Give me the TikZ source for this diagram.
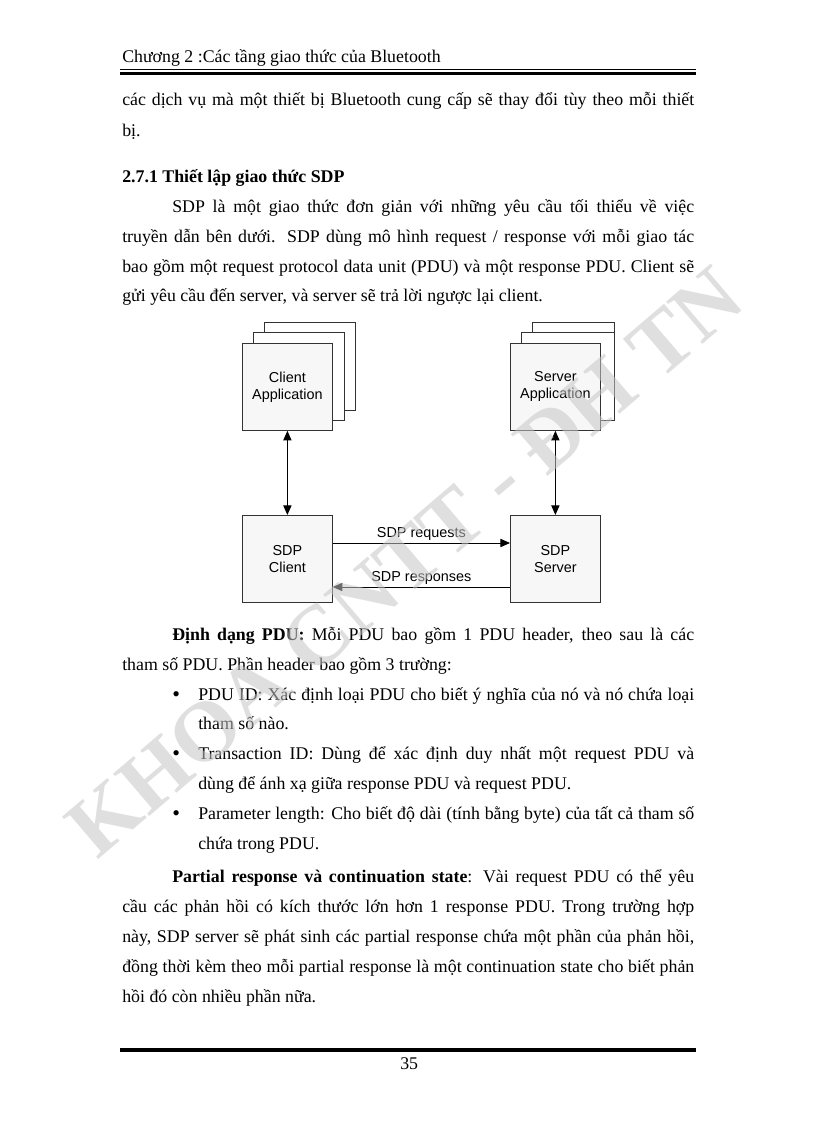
\documentclass[tikz,border=0pt]{standalone}
\usepackage{fontspec}
\usetikzlibrary{arrows.meta}
\setmainfont{Liberation Serif}
\newfontfamily\arialf{Liberation Sans}
\newcommand\jA[1]{\makebox[417.1pt][s]{#1}}
\newcommand\jB[1]{\makebox[380.6pt][s]{#1}}
\newcommand\jC[1]{\makebox[361.7pt][s]{#1}}
\newcommand\bul{{\fontsize{16}{16}\selectfont\textbullet}}
\begin{document}
\begin{tikzpicture}[x=0.7292pt,y=-0.7292pt,
  txt/.style={anchor=base west,inner sep=0pt,font=\fontsize{13}{15}\selectfont},
  bx/.style={draw=black!80,fill=gray!6,line width=0.6pt,minimum width=65.6pt,minimum height=63.4pt,inner sep=0pt,align=center,font=\arialf\fontsize{10.5}{12.5}\selectfont},
  back/.style={draw=black!80,fill=white,line width=0.6pt},
  arr/.style={-{Triangle[length=7pt,width=6pt]},line width=0.7pt},
  darr/.style={{Triangle[length=7pt,width=6pt]}-{Triangle[length=7pt,width=6pt]},line width=0.7pt},
  lab/.style={font=\arialf\fontsize{10.5}{12}\selectfont,inner sep=1.5pt}]
\useasboundingbox[fill=white] (0,0) rectangle (816,1123);
% header
\node[txt] (hd) at (122,63) {Chương 2 :Các tầng giao thức của Bluetooth};
\draw[line width=0.6pt] (120,69.5) -- (696,69.5);
\draw[line width=2.2pt] (120,73.5) -- (696,73.5);
% text
\node[txt] (t1) at (122,106) {\jA{các dịch vụ mà một thiết bị Bluetooth cung cấp sẽ thay đổi tùy theo mỗi thiết}};
\node[txt] (t2) at (122,137) {bị.};
\node[txt,font=\fontsize{13}{15}\selectfont\bfseries] (t3) at (122,183) {2.7.1 Thiết lập giao thức SDP};
\node[txt] (t4) at (172,213) {\jB{SDP là một giao thức đơn giản với những yêu cầu tối thiểu về việc}};
\node[txt] (t5) at (122,243) {\jA{truyền dẫn bên dưới. SDP dùng mô hình request / response với mỗi giao tác}};
\node[txt] (t6) at (122,273) {\jA{bao gồm một request protocol data unit (PDU) và một response PDU. Client sẽ}};
\node[txt] (t7) at (122,302) {gửi yêu cầu đến server, và server sẽ trả lời ngược lại client.};
% diagram
\draw[back] (264,322) rectangle (355,410);
\draw[back] (253,332) rectangle (344,420);
\node[bx,anchor=north west] (ca) at (242,343) {Client\\Application};
\draw[back] (532,322) rectangle (614,410);
\draw[back] (521,332) rectangle (614,420);
\node[bx,anchor=north west] (sa) at (510,343) {Server\\Application};
\node[bx,anchor=north west] (sc) at (242,515) {SDP\\Client};
\node[bx,anchor=north west] (ss) at (510,515) {SDP\\Server};
\draw[darr] (ca) -- (sc);
\draw[darr] (sa) -- (ss);
\draw[arr] (sc.east|-0,543) -- node[lab,above] (rq) {SDP requests} (ss.west|-0,543);
\draw[arr] (ss.west|-0,587) -- node[lab,above] (rs) {SDP responses} (sc.east|-0,587);
% more text
\node[txt] (t8) at (172,640) {\jB{\textbf{Định dạng PDU:} Mỗi PDU bao gồm 1 PDU header, theo sau là các}};
\node[txt] (t9) at (122,670) {tham số PDU. Phần header bao gồm 3 trường:};
\node[txt] (b1) at (172,701) {\bul};
\node[txt] (t10) at (198,700) {\jC{PDU ID: Xác định loại PDU cho biết ý nghĩa của nó và nó chứa loại}};
\node[txt] (t11) at (198,729) {tham số nào.};
\node[txt] (b2) at (172,760) {\bul};
\node[txt] (t12) at (198,759) {\jC{Transaction ID: Dùng để xác định duy nhất một request PDU và}};
\node[txt] (t13) at (198,789) {dùng để ánh xạ giữa response PDU và request PDU.};
\node[txt] (b3) at (172,820) {\bul};
\node[txt] (t14) at (198,819) {\jC{Parameter length: Cho biết độ dài (tính bằng byte) của tất cả tham số}};
\node[txt] (t15) at (198,849) {chứa trong PDU.};
\node[txt] (t16) at (172,882) {\jB{\textbf{Partial response và continuation state}: Vài request PDU có thể yêu}};
\node[txt] (t17) at (122,912) {\jA{cầu các phản hồi có kích thước lớn hơn 1 response PDU. Trong trường hợp}};
\node[txt] (t18) at (122,942) {\jA{này, SDP server sẽ phát sinh các partial response chứa một phần của phản hồi,}};
\node[txt] (t19) at (122,972) {\jA{đồng thời kèm theo mỗi partial response là một continuation state cho biết phản}};
\node[txt] (t20) at (122,1002) {hồi đó còn nhiều phần nữa.};
% footer
\draw[line width=2.6pt] (120,1050) -- (696,1050);
\node[txt] (pg) at (400,1069) {35};
% watermark
\node[rotate=40.5,text=gray!45,opacity=0.55,font=\fontsize{62}{62}\selectfont\bfseries,inner sep=0pt] (wm) at (405,562) {KHOA CNTT - ĐH TN};
\end{tikzpicture}
\end{document}
